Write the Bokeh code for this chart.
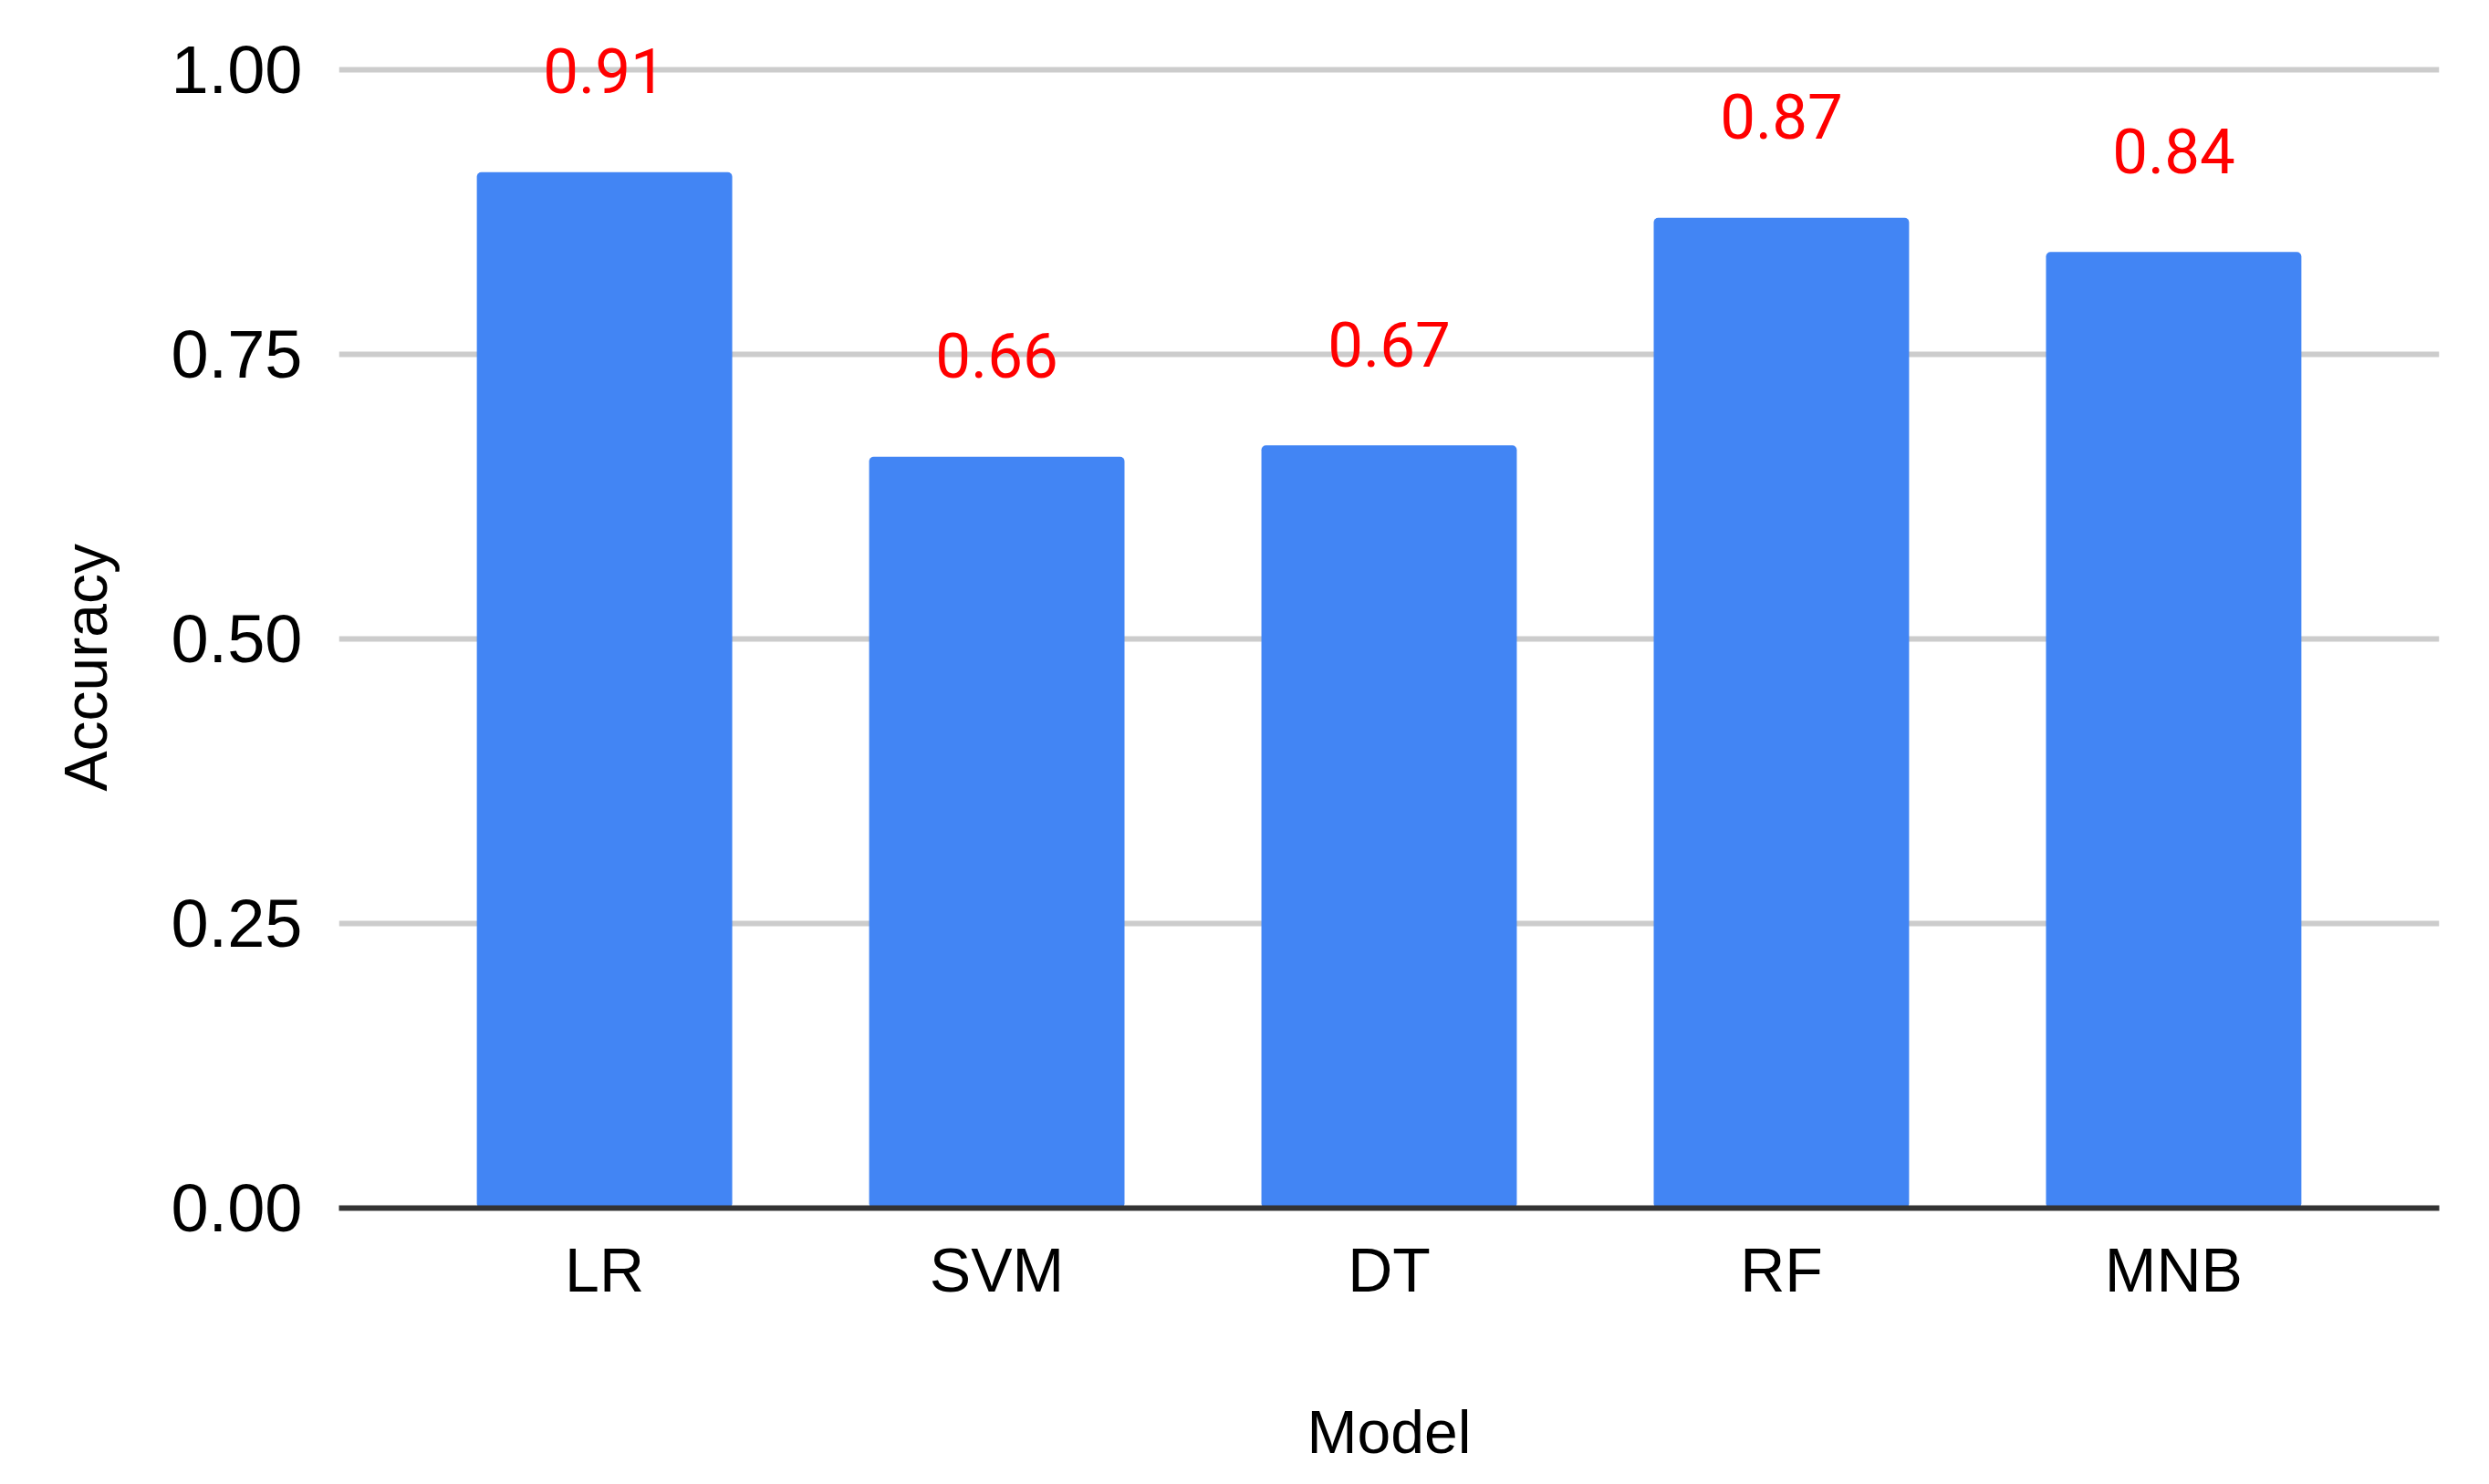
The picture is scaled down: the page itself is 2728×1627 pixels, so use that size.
from bokeh.plotting import figure
from bokeh.models import ColumnDataSource, Range1d, FactorRange, FixedTicker, PrintfTickFormatter, Title
from bokeh.core.properties import value
from bokeh.embed import file_html
from bokeh.resources import INLINE

models = ["LR", "SVM", "DT", "RF", "MNB"]
accuracy = [0.91, 0.66, 0.67, 0.87, 0.84]
labels = ["0.91", "0.66", "0.67", "0.87", "0.84"]
y_ticks = [0.0, 0.25, 0.5, 0.75, 1.0]

src = ColumnDataSource(data=dict(model=models, acc=accuracy, lab=labels))

p = figure(
    width=2712, height=1611,
    x_range=FactorRange(factors=models, range_padding=0.177, range_padding_units="absolute"),
    y_range=Range1d(0, 1.0465),
    output_backend="svg", toolbar_location=None,
    min_border_left=371, min_border_right=39, min_border_top=18, min_border_bottom=287,
)
p.outline_line_color = None
p.background_fill_color = "white"

p.vbar(x="model", top="acc", width=0.651, source=src,
       fill_color="#4285F4", line_color=None, border_radius=5)

p.text(x="model", y="acc", text="lab", source=src,
       text_font=value("Roboto"), text_font_size="69px", text_color="#FF0000",
       text_align="center", text_baseline="alphabetic", y_offset=-111)

# grid
p.xgrid.grid_line_color = None
p.ygrid.grid_line_color = "#CCCCCC"
p.ygrid.grid_line_width = 6
p.ygrid.ticker = FixedTicker(ticks=y_ticks)

# y axis
p.yaxis.ticker = FixedTicker(ticks=y_ticks)
p.yaxis.formatter = PrintfTickFormatter(format="%.2f")
p.yaxis.axis_line_color = None
p.yaxis.major_tick_line_color = None
p.yaxis.minor_tick_line_color = None
p.yaxis.major_label_text_font = "Liberation Sans"
p.yaxis.major_label_text_font_size = "74px"
p.yaxis.major_label_text_color = "#000000"
p.yaxis.major_label_standoff = 34

ytitle = Title(text="Accuracy", align="left", offset=457, standoff=103,
               vertical_align="top",
               text_font="Liberation Sans", text_font_size="66px",
               text_font_style="normal", text_color="#000000")
p.add_layout(ytitle, "left")

# x axis
p.xaxis.axis_line_color = "#333333"
p.xaxis.axis_line_width = 6
p.xaxis.major_tick_line_color = None
p.xaxis.minor_tick_line_color = None
p.xaxis.major_label_text_font = "Liberation Sans"
p.xaxis.major_label_text_font_size = "68px"
p.xaxis.major_label_text_color = "#000000"
p.xaxis.major_label_standoff = 23
p.xaxis.axis_label = "Model"
p.xaxis.axis_label_text_font = "Liberation Sans"
p.xaxis.axis_label_text_font_size = "66px"
p.xaxis.axis_label_text_font_style = "normal"
p.xaxis.axis_label_text_color = "#000000"
p.xaxis.axis_label_standoff = 100

open("out.html", "w").write(file_html(p, INLINE))
